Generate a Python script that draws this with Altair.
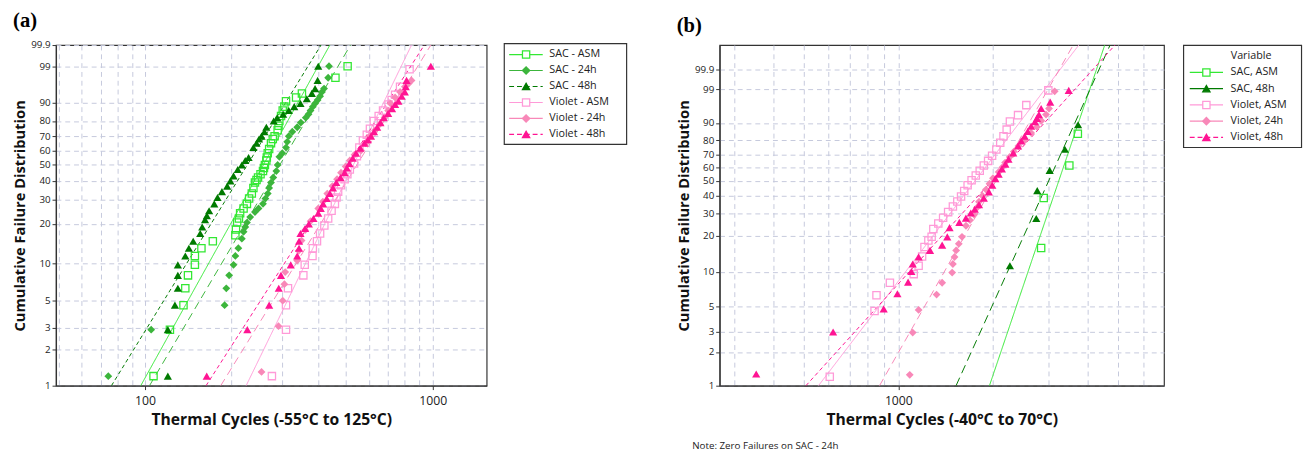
import math
import altair as alt
import pandas as pd

FONT = "Open Sans"

# ---------------- Panel (a): (cycles, cumulative failure %) ----------------
A_SAC_ASM = [(107, 1.2), (122, 2.9), (136, 4.6), (138, 6.3), (141, 8.0), (149, 9.7), (149, 11.4),
             (157, 13.1), (172, 14.8), (206, 16.5), (207, 18.2), (209, 20.5), (212, 22), (214, 24),
             (220, 26), (226, 28), (230, 30.5), (235, 33), (238, 36), (241, 39), (244, 40.5),
             (247, 42), (252, 44), (257, 46), (259, 48), (261, 50), (264, 53), (265, 55), (267, 58),
             (270, 61), (274, 65), (278, 68), (282, 70), (289, 74), (291, 77), (293, 80), (297, 83),
             (301, 86), (305, 88), (309, 90.5), (335, 92), (351, 93.5), (459, 97.5), (506, 99)]
A_SAC_24H = [(74.5, 1.2), (105, 2.9), (189, 4.6), (191.6, 6.3), (196, 8), (203, 9.7), (206, 11.4),
             (211, 13.1), (217, 15.5), (220, 17.5), (223, 19), (226, 20.5), (232, 22.5), (241, 24.5),
             (248, 26), (257, 28), (262, 30.5), (267, 33), (270, 36), (274, 39), (279, 42), (286, 46),
             (289, 50), (293, 55.5), (300, 58), (309, 62), (312, 66), (316, 70), (325, 73), (338, 76),
             (348, 79), (362, 82), (370, 84), (376, 86), (383, 88), (390, 89.5), (398, 91), (406, 92.5),
             (412, 94), (419, 95), (433, 97.5), (436, 99)]
A_SAC_48H = [(120, 1.2), (120, 2.9), (127, 4.6), (130, 6.3), (130, 8), (130, 9.7), (138, 11.4),
             (142, 13.1), (147, 14.8), (155.5, 17), (158, 19), (161.6, 21.5), (164, 23), (167, 25),
             (174, 28), (178.6, 31), (185, 34), (193, 37), (198, 40), (203, 43), (210, 47), (217, 50),
             (223, 53), (229, 55), (238, 62), (244, 65), (249, 68), (254, 70), (260, 73), (264, 76),
             (280, 80), (288, 82), (302, 84), (316, 86), (330, 88), (347, 89.5), (365, 91.5),
             (380, 93.5), (390, 95), (398, 97), (400, 99)]
A_VIO_ASM = [(276, 1.2), (309, 2.9), (309, 4.6), (314, 6.3), (355, 8), (359, 9.7), (382, 11.4),
             (383, 13.1), (396, 14.8), (406, 17), (420, 19.5), (433, 22), (445, 25), (457, 28),
             (463, 31), (469, 34), (480, 37.5), (494, 41), (505, 44), (515, 47), (533, 51), (545, 56),
             (556, 62), (572, 67), (590, 71), (605, 75), (624, 80), (649, 83), (672, 86), (702, 89),
             (720, 91), (740, 93), (770, 95.5), (831, 98.7)]
A_VIO_24H = [(254, 1.3), (291, 3.1), (301, 5), (305, 6.8), (307, 8.5), (338, 10.5), (342, 12.5),
             (350, 15), (360, 18), (376, 21), (400, 26), (415, 29), (430, 33), (448, 37), (465, 41),
             (480, 45), (498, 49), (515, 53), (535, 57), (564, 60), (585, 65), (605, 70), (630, 74),
             (655, 78), (680, 82), (700, 86), (713, 89.5), (740, 92), (770, 94), (800, 95.5),
             (825, 96.3), (844, 97)]
A_VIO_48H = [(163.8, 1.2), (226.7, 2.9), (270, 4.6), (291.6, 6.3), (296.8, 8), (321, 9.7), (338, 11.4),
             (343, 13.1), (343, 14.8), (347, 17), (360, 18.5), (371, 20), (385, 22), (400, 24),
             (408, 26), (416, 28), (428, 30.5), (439, 33), (450, 36), (462, 39), (478, 42), (494, 45),
             (503, 48), (513, 51), (527, 54.5), (541, 58), (560, 61.5), (579, 65), (595, 67.5),
             (610, 70), (625, 73), (641, 76), (658, 79), (676, 82), (700, 84.5), (722, 87), (740, 89),
             (760, 90.5), (780, 92.5), (800, 94), (806, 95.5), (811, 97), (985, 99)]

# fitted Weibull lines (cycles at the bottom and top of the probability axis)
A_FIT_SAC_ASM = [(96.6, 1), (439, 99.9)]
A_FIT_SAC_24H = [(103.6, 1), (518, 99.9)]
A_FIT_SAC_48H = [(76.4, 1), (409, 99.9)]
A_FIT_VIO_ASM = [(224.6, 1), (844, 99.9)]
A_FIT_VIO_24H = [(183.2, 1), (985, 99.9)]
A_FIT_VIO_48H = [(162.9, 1), (935, 99.9)]

# ---------------- Panel (b) ----------------
B_SAC_ASM = [(2846, 15.9), (2900, 38.6), (3499, 61.4), (3724, 84.1)]
B_SAC_48H = [(2264, 11.3), (2746, 27.3), (2766, 43.3), (3029, 57.8), (3386, 73.7), (3730, 89.1)]
B_VIO_ASM = [(605, 1.2), (840, 4.6), (852, 6.3), (940, 8.1), (1119, 9.6), (1160, 11.3), (1190, 13.5),
             (1211, 16.2), (1246, 18.3), (1276, 19.6), (1292, 22.6), (1340, 25), (1388, 27.7),
             (1440, 30.5), (1491, 33.6), (1540, 36.5), (1583, 39.5), (1620, 43), (1661, 47),
             (1710, 50.5), (1763, 54), (1815, 57.5), (1870, 61.5), (1930, 65), (1987, 68.8),
             (2050, 73.5), (2109, 78.3), (2160, 82.5), (2211, 86.5), (2264, 90.6), (2403, 93.3),
             (2553, 96.4), (3000, 98.9)]
B_VIO_24H = [(1087, 1.25), (1111, 2.97), (1160, 4.7), (1323, 6.4), (1378, 8.1), (1483, 9.9), (1491, 11.7),
             (1509, 13.4), (1527, 15.2), (1557, 17.2), (1594, 19.6), (1641, 24), (1690, 26.5),
             (1741, 29.2), (1780, 33), (1805, 36.3), (1850, 40), (1900, 44), (1950, 48), (2000, 52),
             (2085, 56.6), (2140, 60), (2186, 63.7), (2260, 68), (2330, 72), (2410, 76), (2530, 80),
             (2645, 84.6), (2760, 88), (2850, 91), (2950, 93.5), (3015, 95.5), (3143, 98.8)]
B_VIO_48H = [(353, 1.27), (620, 3.0), (898, 4.8), (993, 6.5), (1074, 8.2), (1100, 10.1), (1111, 11.7),
             (1160, 13.4), (1261, 15.2), (1378, 16.8), (1431, 19.6), (1455, 23.2), (1563, 25.5),
             (1640, 27.5), (1700, 30), (1750, 32), (1805, 34.6), (1870, 38.5), (1940, 42.5),
             (1990, 47), (2035, 51.7), (2085, 55), (2135, 58.9), (2190, 62.5), (2240, 66.3),
             (2320, 71), (2403, 76), (2460, 79.5), (2522, 82.6), (2580, 85.5), (2645, 88.3),
             (2720, 90.5), (2760, 92), (2800, 93.5), (2846, 95.5), (3042, 97.1), (3484, 98.9)]

B_FIT_SAC_ASM = [(1949, 1), (4535, 99.999)]
B_FIT_SAC_48H = [(1526, 1), (4716, 99.999)]
B_FIT_VIO_ASM = [(557, 1), (3750, 99.999)]
B_FIT_VIO_24H = [(871, 1), (3600, 99.999)]
B_FIT_VIO_48H = [(508, 1), (4891, 99.999)]

Y_TICKS = [1, 2, 3, 5, 10, 20, 30, 40, 50, 60, 70, 80, 90, 99, 99.9]
A_XGRID = [50, 60, 70, 80, 90, 100, 200, 300, 400, 500, 600, 700, 800, 900, 1000]
B_XGRID = [300, 400, 500, 600, 700, 800, 900, 1000, 2000, 3000, 4000, 5000, 6000]

A_LEGEND = ["SAC - ASM", "SAC - 24h", "SAC - 48h", "Violet - ASM", "Violet - 24h", "Violet - 48h"]
B_LEGEND = ["SAC, ASM", "SAC, 48h", "Violet, ASM", "Violet, 24h", "Violet, 48h"]
NOTE = "Note: Zero Failures on SAC - 24h"

STYLE = {
    "SAC_ASM": dict(color="#33E833", shape="square", filled=False, size=55),
    "SAC_24H": dict(color="#3CB53C", shape="diamond", filled=True, size=64),
    "SAC_48H": dict(color="#007A00", shape="triangle-up", filled=True, size=70),
    "VIO_ASM": dict(color="#FF9AD8", shape="square", filled=False, size=55),
    "VIO_24H": dict(color="#F888B8", shape="diamond", filled=True, size=64),
    "VIO_48H": dict(color="#FF1493", shape="triangle-up", filled=True, size=70),
}
SOLID = [1, 0]
SHORT = [4, 3]
LONG = [8, 5]


def wb(p):
    return math.log(-math.log(1 - p / 100.0))


CALC = "log(-log(1 - datum.F / 100))"
X_LAB_TEST = "datum.value == 100 || datum.value == 1000"


def encs(xdom, ytop, xgrid, xtitle):
    x = alt.X("cycles:Q",
              scale=alt.Scale(type="log", domain=xdom, nice=False),
              axis=alt.Axis(values=xgrid, title=xtitle, grid=True, labelOverlap=False, labelFlush=False,
                            labelExpr="(" + X_LAB_TEST + ") ? format(datum.value, 'd') : ''",
                            tickOpacity={"condition": {"test": X_LAB_TEST, "value": 1}, "value": 0},
                            labelFontSize=12.5, labelPadding=5, tickSize=4, titlePadding=5,
                            titleFontSize=16))
    y = alt.Y("t:Q",
              scale=alt.Scale(domain=[wb(1), wb(ytop)], nice=False, zero=False),
              axis=alt.Axis(values=[wb(v) for v in Y_TICKS], title="Cumulative Failure Distribution",
                            grid=True, labelOverlap=False, labelFlush=False,
                            labelExpr="format(100 * (1 - exp(-exp(datum.value))), '.3~r')",
                            labelFontSize=10, labelPadding=2, tickSize=4, titlePadding=3,
                            titleFontSize=15))
    return x, y


def pts(data, key, x, y):
    st = STYLE[key]
    df = pd.DataFrame(data, columns=["cycles", "F"])
    return (alt.Chart(df).transform_calculate(t=CALC)
            .mark_point(shape=st["shape"], filled=st["filled"], color=st["color"], size=st["size"],
                        strokeWidth=1.3, opacity=1)
            .encode(x=x, y=y))


def fit(data, key, dash, x, y):
    st = STYLE[key]
    df = pd.DataFrame(data, columns=["cycles", "F"])
    return (alt.Chart(df).transform_calculate(t=CALC)
            .mark_line(color=st["color"], strokeDash=dash, strokeWidth=1, clip=True)
            .encode(x=x, y=y))


def title(tag):
    return alt.TitleParams(text=tag, anchor="start", frame="bounds", font="Liberation Serif",
                           fontSize=21, fontWeight="bold", color="#000", offset=9.5)


VIEW = alt.ViewBackground(stroke="#333", strokeWidth=1.2)

# ---- panel (a)
xa, ya = encs([49, 1540], 99.9, A_XGRID, "Thermal Cycles (-55°C to 125°C)")
panel_a = alt.layer(
    fit(A_FIT_SAC_ASM, "SAC_ASM", SOLID, xa, ya),
    fit(A_FIT_SAC_24H, "SAC_24H", LONG, xa, ya),
    fit(A_FIT_SAC_48H, "SAC_48H", SHORT, xa, ya),
    fit(A_FIT_VIO_ASM, "VIO_ASM", SOLID, xa, ya),
    fit(A_FIT_VIO_24H, "VIO_24H", LONG, xa, ya),
    fit(A_FIT_VIO_48H, "VIO_48H", SHORT, xa, ya),
    pts(A_SAC_ASM, "SAC_ASM", xa, ya),
    pts(A_SAC_24H, "SAC_24H", xa, ya),
    pts(A_SAC_48H, "SAC_48H", xa, ya),
    pts(A_VIO_ASM, "VIO_ASM", xa, ya),
    pts(A_VIO_24H, "VIO_24H", xa, ya),
    pts(A_VIO_48H, "VIO_48H", xa, ya),
).properties(width=440, height=348, title=title("(a)"), view=VIEW)

# ---- panel (b)
xb, yb = encs([270, 7000], 99.999, B_XGRID, "Thermal Cycles (-40°C to 70°C)")
note = (alt.Chart(pd.DataFrame({"note": [NOTE]}))
        .mark_text(align="left", baseline="middle", font=FONT, fontSize=10, color="#222")
        .encode(x=alt.value(-28), y=alt.value(410), text="note:N"))
panel_b = alt.layer(
    fit(B_FIT_SAC_ASM, "SAC_ASM", SOLID, xb, yb),
    fit(B_FIT_SAC_48H, "SAC_48H", [9, 5], xb, yb),
    fit(B_FIT_VIO_ASM, "VIO_ASM", SOLID, xb, yb),
    fit(B_FIT_VIO_24H, "VIO_24H", LONG, xb, yb),
    fit(B_FIT_VIO_48H, "VIO_48H", SHORT, xb, yb),
    pts(B_SAC_ASM, "SAC_ASM", xb, yb),
    pts(B_SAC_48H, "SAC_48H", xb, yb),
    pts(B_VIO_ASM, "VIO_ASM", xb, yb),
    pts(B_VIO_24H, "VIO_24H", xb, yb),
    pts(B_VIO_48H, "VIO_48H", xb, yb),
    note,
).properties(width=454, height=348, title=title("(b)"), view=VIEW)


def legend(field, labels, keys, dashes, w, h, box, rows, xline, xmark, xtext, head=None):
    df = pd.DataFrame({field: labels})
    colors = [STYLE[k]["color"] for k in keys]
    shapes = [STYLE[k]["shape"] for k in keys]
    fills = [STYLE[k]["color"] if STYLE[k]["filled"] else "white" for k in keys]
    y = alt.Y(field + ":N", scale=alt.Scale(type="point", domain=labels, range=list(rows), padding=0),
              axis=None)
    frame = (alt.Chart(pd.DataFrame({"k": [0]}))
             .mark_rect(fill="white", stroke="#333", strokeWidth=1.2)
             .encode(x=alt.value(box[0]), x2=alt.value(box[1]), y=alt.value(box[2]), y2=alt.value(box[3])))
    lines = (alt.Chart(df).mark_rule(strokeWidth=1.2)
             .encode(x=alt.value(xline[0]), x2=alt.value(xline[1]), y=y,
                     color=alt.Color(field + ":N", scale=alt.Scale(domain=labels, range=colors), legend=None),
                     strokeDash=alt.StrokeDash(field + ":N", scale=alt.Scale(domain=labels, range=dashes),
                                               legend=None)))
    marks = (alt.Chart(df).mark_point(filled=True, size=55, strokeWidth=1.3, opacity=1)
             .encode(x=alt.value(xmark), y=y,
                     shape=alt.Shape(field + ":N", scale=alt.Scale(domain=labels, range=shapes), legend=None),
                     fill=alt.Fill(field + ":N", scale=alt.Scale(domain=labels, range=fills), legend=None),
                     stroke=alt.Stroke(field + ":N", scale=alt.Scale(domain=labels, range=colors),
                                       legend=None)))
    text = (alt.Chart(df).mark_text(align="left", baseline="middle", font=FONT, fontSize=11, color="#222")
            .encode(x=alt.value(xtext), y=y, text=field + ":N"))
    layers = [frame, lines, marks, text]
    if head is not None:
        layers.append(alt.Chart(pd.DataFrame({"h": [head[0]]}))
                      .mark_text(align="center", baseline="middle", font=FONT, fontSize=11, color="#222")
                      .encode(x=alt.value(head[1]), y=alt.value(head[2]), text="h:N"))
    return alt.layer(*layers).properties(width=w, height=h, view=alt.ViewBackground(stroke="transparent"))


legend_a = legend("entry_a", A_LEGEND, ["SAC_ASM", "SAC_24H", "SAC_48H", "VIO_ASM", "VIO_24H", "VIO_48H"],
                  [SOLID, SOLID, [5, 3], SOLID, SOLID, [5, 3]],
                  190, 120, (16, 141, -1.5, 101.5), (9.7, 91.3), (21, 55.3), 38.3, 62)
legend_b = legend("entry_b", B_LEGEND, ["SAC_ASM", "SAC_48H", "VIO_ASM", "VIO_24H", "VIO_48H"],
                  [SOLID, SOLID, SOLID, SOLID, [5, 3]],
                  139, 120, (18, 138.5, 0.3, 104.7), (28, 94.3), (24.3, 58.3), 41.3, 66,
                  head=("Variable", 87, 11.3))

chart = (alt.hconcat(panel_a, legend_a, panel_b, legend_b, spacing=0)
         .resolve_scale(color="independent", shape="independent", fill="independent",
                        stroke="independent", strokeDash="independent")
         .properties(padding={"left": 4, "top": -4, "right": 0, "bottom": 0})
         .configure_axis(labelFont=FONT, titleFont=FONT, labelColor="#222", titleColor="#111",
                         titleFontWeight="bold",
                         gridColor="#C5C9DC", gridDash=[5, 4], gridWidth=1,
                         domainColor="#333", domainWidth=1.2, tickColor="#333")
         .configure_text(font=FONT))

chart.save("out.html", embed_options={"renderer": "svg", "actions": False})
